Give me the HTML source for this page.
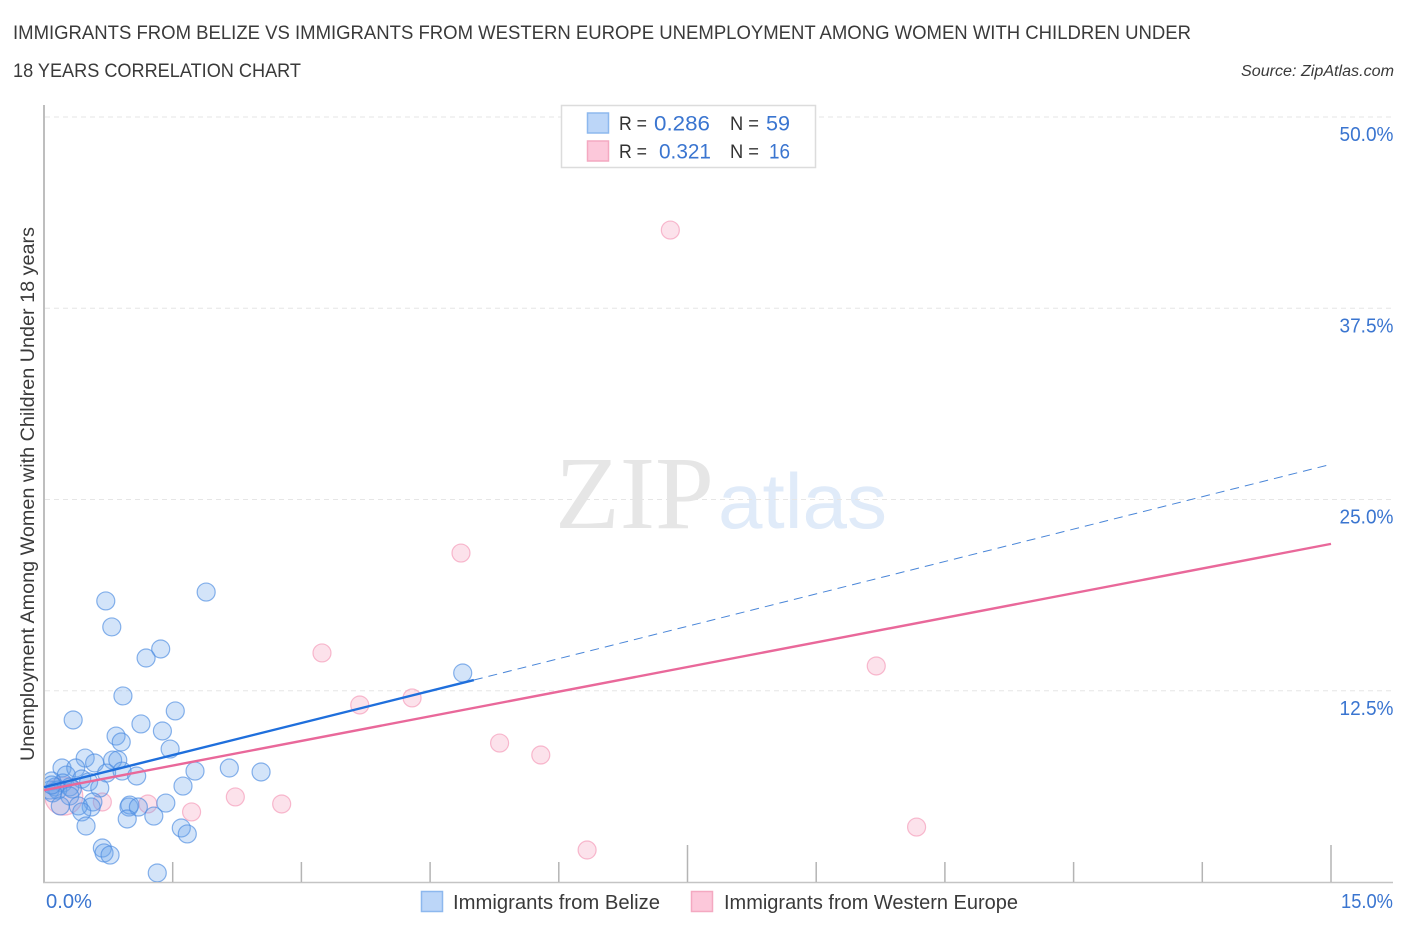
<!DOCTYPE html>
<html lang="en">
<head>
<meta charset="utf-8">
<title>Immigrants from Belize vs Immigrants from Western Europe Unemployment Correlation Chart</title>
<style>
html,body{margin:0;padding:0;background:#fff;}
svg{display:block;font-family:"Liberation Sans",sans-serif;}
</style>
</head>
<body>
<svg id="chart" xmlns="http://www.w3.org/2000/svg" width="1406" height="930" viewBox="0 0 1406 930">
  <defs><clipPath id="plot-clip"><rect x="45" y="100" width="1350" height="782"></rect></clipPath></defs>
  <rect width="1406" height="930" fill="#fff"></rect>

  <text x="13" y="39" font-size="19" fill="#3a3a3a" textLength="1178" lengthAdjust="spacingAndGlyphs">IMMIGRANTS FROM BELIZE VS IMMIGRANTS FROM WESTERN EUROPE UNEMPLOYMENT AMONG WOMEN WITH CHILDREN UNDER</text>
  <text x="13" y="77" font-size="19" fill="#3a3a3a" textLength="288" lengthAdjust="spacingAndGlyphs">18 YEARS CORRELATION CHART</text>
  <text x="1241" y="76" font-size="15.5" font-style="italic" fill="#3a3a3a" textLength="153" lengthAdjust="spacingAndGlyphs">Source: ZipAtlas.com</text>

  <g>
    <text x="555" y="528" font-family="'Liberation Serif',serif" font-size="104" fill="#e6e6e6" textLength="159" lengthAdjust="spacingAndGlyphs">ZIP</text>
    <text x="718" y="528" font-size="78" fill="#e0ebf9" textLength="169" lengthAdjust="spacingAndGlyphs">atlas</text>
  </g>

  <g id="grid"></g>
  <g id="axes"></g>
  <g id="points" clip-path="url(#plot-clip)"></g>
  <g id="trends"></g>
  <g id="ylabels"></g>
  <g id="xlabels"></g>

  <text transform="translate(34,761) rotate(-90)" font-size="19" fill="#3a3a3a" textLength="534" lengthAdjust="spacingAndGlyphs">Unemployment Among Women with Children Under 18 years</text>

  <g>
    <rect x="561.5" y="105.5" width="254" height="62" fill="#fff" stroke="#dcdcdc" stroke-width="1.5"></rect>
    <rect x="587.5" y="113" width="21" height="20" fill="#bcd6f8" stroke="#8db8ee" stroke-width="1.5"></rect>
    <rect x="587.5" y="141" width="21" height="20" fill="#fcc8da" stroke="#f4a9c1" stroke-width="1.5"></rect>
    <text x="619" y="130" font-size="19.5" fill="#333" textLength="28" lengthAdjust="spacingAndGlyphs">R =</text>
    <text x="654" y="130.500" font-size="21" fill="#3a75d0" textLength="56" lengthAdjust="spacingAndGlyphs">0.286</text>
    <text x="730" y="130" font-size="19.5" fill="#333" textLength="29" lengthAdjust="spacingAndGlyphs">N =</text>
    <text x="766" y="130.500" font-size="21" fill="#3a75d0" textLength="24" lengthAdjust="spacingAndGlyphs">59</text>
    <text x="619" y="158" font-size="19.5" fill="#333" textLength="28" lengthAdjust="spacingAndGlyphs">R =</text>
    <text x="659" y="158.500" font-size="21" fill="#3a75d0" textLength="52" lengthAdjust="spacingAndGlyphs">0.321</text>
    <text x="730" y="158" font-size="19.5" fill="#333" textLength="29" lengthAdjust="spacingAndGlyphs">N =</text>
    <text x="769" y="158.500" font-size="21" fill="#3a75d0" textLength="21" lengthAdjust="spacingAndGlyphs">16</text>
  </g>

  <g>
    <rect x="421.500" y="891.500" width="21" height="20" fill="#bcd6f8" stroke="#8db8ee" stroke-width="1.5"></rect>
    <text x="453" y="909" font-size="20" fill="#3a3a3a" textLength="207" lengthAdjust="spacingAndGlyphs">Immigrants from Belize</text>
    <rect x="691.500" y="891.500" width="21" height="20" fill="#fcc8da" stroke="#f4a9c1" stroke-width="1.5"></rect>
    <text x="724" y="909" font-size="20" fill="#3a3a3a" textLength="294" lengthAdjust="spacingAndGlyphs">Immigrants from Western Europe</text>
  </g>
</svg>

<script>
const yTickValues = [12.5, 25, 37.5, 50];
const yTickLabels = ["12.5%", "25.0%", "37.5%", "50.0%"];
const xTickValues = [1.5, 3, 4.5, 6, 7.5, 9, 10.5, 12, 13.5, 15];
const xMajorTicks = [7.5, 15];
const xEndLabels = ["0.0%", "15.0%"];
const belizeX = [1.89,0.72,0.79,1.36,1.19,4.88,0.92,1.53,0.34,1.13,1.38,0.84,0.90,1.47,0.48,0.59,0.80,0.86,0.21,0.37,0.26,0.73,0.91,1.08,1.76,2.16,2.53,1.62,0.09,0.44,0.52,0.22,0.13,0.30,0.65,0.07,0.16,0.10,0.33,0.30,0.57,0.55,0.40,0.19,0.99,1.00,1.10,1.42,1.28,0.97,0.44,0.49,1.60,1.67,0.68,0.70,0.77,1.32,0.09];
const belizeY = [18.95,18.37,16.67,15.23,14.64,13.66,12.16,11.18,10.59,10.33,9.87,9.54,9.15,8.69,8.10,7.78,7.97,7.97,7.45,7.45,6.99,7.12,7.25,6.93,7.25,7.45,7.19,6.27,6.60,6.73,6.54,6.47,6.21,6.21,6.14,6.01,6.01,5.82,6.08,5.62,5.23,4.90,4.97,4.97,4.90,5.03,4.90,5.16,4.31,4.12,4.58,3.66,3.53,3.14,2.22,1.90,1.76,0.59,6.34];
const europeX = [7.30,4.86,3.24,9.70,4.29,3.68,5.31,5.79,2.23,2.77,1.72,10.17,6.33,1.21,0.68,0.23];
const europeY = [42.61,21.50,14.97,14.12,12.03,11.57,9.08,8.30,5.56,5.10,4.58,3.59,2.09,5.10,5.23,5.62];
const europeWeight = [1,1,1,1,1,1,1,1,1,1,1,1,1,1,1,4.5];
const belizeTrendX = [0, 5.01];
const belizeTrendY = [6.2, 13.2];
const belizeProjectionX = [5.01, 15];
const belizeProjectionY = [13.2, 27.3];
const europeTrendX = [0, 15];
const europeTrendY = [6.0, 22.1];

const NS = "http://www.w3.org/2000/svg";
const sx = v => 44 + v * (1287 / 15);
const sy = v => 882 - v * (765 / 50);
const mk = (tag, parent, attrs) => {
  const el = document.createElementNS(NS, tag);
  for (const k in attrs) el.setAttribute(k, attrs[k]);
  document.getElementById(parent).appendChild(el);
  return el;
};

yTickValues.forEach((v, i) => {
  const g = mk("line", "grid", {x1: 45, x2: 1393, y1: sy(v), y2: sy(v), stroke: "#e6e6e6", "stroke-width": 1, "stroke-dasharray": "5 4"});
  
  
  const t = mk("text", "ylabels", {x: 1393.5, y: sy(v) + 24, "font-size": 20, fill: "#3a75d0", "text-anchor": "end", textLength: 54, lengthAdjust: "spacingAndGlyphs"});
  t.textContent = yTickLabels[i];
  
  
});

const yAxis = mk("line", "axes", {x1: 44, x2: 44, y1: 105, y2: 883, stroke: "#a8a8a8", "stroke-width": 1.5});


const xAxis = mk("line", "axes", {x1: 43, x2: 1393, y1: 882.5, y2: 882.5, stroke: "#c4c4c4", "stroke-width": 1.5});


xTickValues.forEach(v => {
  const top = xMajorTicks.includes(v) ? 845 : 862;
  const tick = mk("line", "axes", {x1: sx(v), x2: sx(v), y1: top, y2: 882, stroke: "#b4b4b4", "stroke-width": 1.5});
  
  
});

const x0 = mk("text", "xlabels", {x: 46, y: 908, "font-size": 20, fill: "#3a75d0", textLength: 46, lengthAdjust: "spacingAndGlyphs"});
x0.textContent = xEndLabels[0];


const x1 = mk("text", "xlabels", {x: 1341, y: 908, "font-size": 20, fill: "#3a75d0", textLength: 52, lengthAdjust: "spacingAndGlyphs"});
x1.textContent = xEndLabels[1];



europeX.forEach((v, i) => {
  const c = mk("circle", "points", {cx: sx(v), cy: sy(europeY[i]), r: 9 * Math.sqrt(europeWeight[i]), fill: "#f48fb1", "fill-opacity": 0.26, stroke: "#f48fb1", "stroke-opacity": 0.6, "stroke-width": 1.2});
  
  
});
belizeX.forEach((v, i) => {
  const c = mk("circle", "points", {cx: sx(v), cy: sy(belizeY[i]), r: 9, fill: "#6ea6ea", "fill-opacity": 0.3, stroke: "#4a8be0", "stroke-opacity": 0.65, "stroke-width": 1.2});
  
  
});

const lp = mk("line", "trends", {x1: sx(europeTrendX[0]), y1: sy(europeTrendY[0]), x2: sx(europeTrendX[1]), y2: sy(europeTrendY[1]), stroke: "#e9689a", "stroke-width": 2.4});


const lb = mk("line", "trends", {x1: sx(belizeTrendX[0]), y1: sy(belizeTrendY[0]), x2: sx(belizeTrendX[1]), y2: sy(belizeTrendY[1]), stroke: "#1f6fdc", "stroke-width": 2.4});


const ld = mk("line", "trends", {x1: sx(belizeProjectionX[0]), y1: sy(belizeProjectionY[0]), x2: sx(belizeProjectionX[1]), y2: sy(belizeProjectionY[1]), stroke: "#4a86d8", "stroke-width": 1, "stroke-dasharray": "9 6"});


</script>
</body>
</html>
